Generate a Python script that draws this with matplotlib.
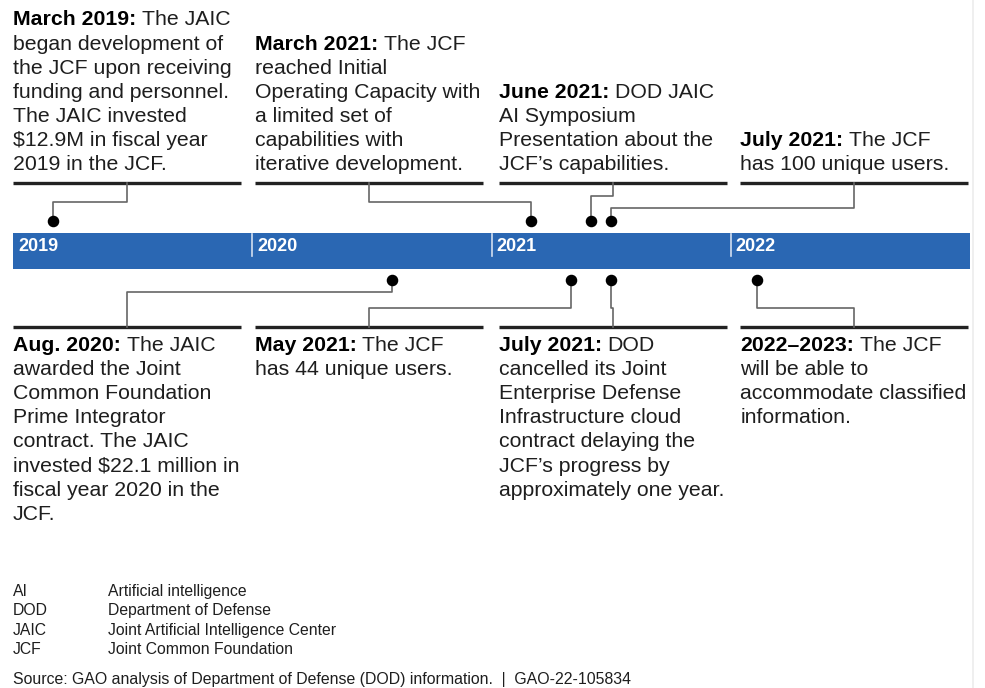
import matplotlib
matplotlib.use('Agg')
import matplotlib.pyplot as plt

plt.rcParams['font.family'] = ['Liberation Sans', 'DejaVu Sans']

# timeline years shown in the bar
years = [2019, 2020, 2021, 2022]
bar_start = 2019
bar_end = 2023

# events above the bar
top_dates = [2019 + 2/12, 2021 + 2/12, 2021 + 5/12, 2021 + 6/12]
top_heads = ['March 2019:', 'March 2021:', 'June 2021:', 'July 2021:']
top_texts = [
    ['The JAIC', 'began development of', 'the JCF upon receiving',
     'funding and personnel.', 'The JAIC invested', '$12.9M in fiscal year',
     '2019 in the JCF.'],
    ['The JCF', 'reached Initial', 'Operating Capacity with',
     'a limited set of', 'capabilities with', 'iterative development.'],
    ['DOD JAIC', 'AI Symposium', 'Presentation about the',
     'JCF\u2019s capabilities.'],
    ['The JCF', 'has 100 unique users.'],
]

# events below the bar
bot_dates = [2020 + 7/12, 2021 + 4/12, 2021 + 6/12, 2022.11]
bot_heads = ['Aug. 2020:', 'May 2021:', 'July 2021:', '2022\u20132023:']
bot_texts = [
    ['The JAIC', 'awarded the Joint', 'Common Foundation', 'Prime Integrator',
     'contract. The JAIC', 'invested $22.1 million in',
     'fiscal year 2020 in the', 'JCF.'],
    ['The JCF', 'has 44 unique users.'],
    ['DOD', 'cancelled its Joint', 'Enterprise Defense',
     'Infrastructure cloud', 'contract delaying the', 'JCF\u2019s progress by',
     'approximately one year.'],
    ['The JCF', 'will be able to', 'accommodate classified', 'information.'],
]

abbr = ['AI', 'DOD', 'JAIC', 'JCF']
abbr_def = ['Artificial intelligence', 'Department of Defense',
            'Joint Artificial Intelligence Center', 'Joint Common Foundation']
source = 'Source: GAO analysis of Department of Defense (DOD) information.  |  GAO-22-105834'

W, H = 985, 688
fig = plt.figure(figsize=(W / 100, H / 100), dpi=100)
ax = fig.add_axes([0, 0, 1, 1])
ppy = 957 / 4  # pixels per year
ax.set_xlim(bar_start - 13 / ppy, bar_start + (W - 13) / ppy)
ax.set_ylim(H, 0)
ax.axis('off')
dx = 1 / ppy

fs = 15.3
lh = 24.1
txt_col = '#1e1e1e'
line_col = '#666666'
blue = '#2a67b3'

col_left = [2019.0, 2020.01, 2021.03, 2022.04]
col_w = 0.953

renderer = fig.canvas.get_renderer()

def draw_block(x, y0, head, lines):
    t = ax.text(x, y0, head, fontsize=fs, fontweight='bold', color='black',
                va='baseline', ha='left', parse_math=False)
    bb = t.get_window_extent(renderer=renderer)
    xe = ax.transData.inverted().transform((bb.x1, bb.y0))[0]
    ax.text(xe + 0.278 * fs * 100 / 72 * dx, y0, lines[0], fontsize=fs,
            color=txt_col, va='baseline', ha='left', parse_math=False)
    for i, s in enumerate(lines[1:]):
        ax.text(x, y0 + (i + 1) * lh, s, fontsize=fs, color=txt_col,
                va='baseline', ha='left', parse_math=False)

# faint frame line on the right
ax.plot([2023.012, 2023.012], [0, H], color='#ececec', lw=1.2)

# bar
ax.fill_between([bar_start, bar_end], 233, 269, color=blue, lw=0)
for i, yr in enumerate(years):
    if i > 0:
        ax.plot([yr, yr], [234, 256], color='#d3def0', lw=1.2)
    ax.text(yr + 5 * dx, 246.5, str(yr), color='white', fontsize=13,
            fontweight='bold', va='center', ha='left')

# top row
top_under = 183
top_elbow = [202, 202, 196, 208]
for i in range(4):
    ax.plot([col_left[i], col_left[i] + col_w], [top_under, top_under],
            color='#222222', lw=2.4, solid_capstyle='butt')
    n = len(top_texts[i])
    draw_block(col_left[i], 170 - (n - 1) * lh, top_heads[i], top_texts[i])
    mid = col_left[i] + col_w / 2
    d = top_dates[i]
    ax.plot([d, d, mid, mid], [221, top_elbow[i], top_elbow[i], top_under],
            color=line_col, lw=1.2)
    ax.plot([d], [221], marker='o', markersize=7.3, color='black', lw=0)

# bottom row
bot_under = 327
bot_elbow = [292, 308, 308, 308]
for i in range(4):
    ax.plot([col_left[i], col_left[i] + col_w], [bot_under, bot_under],
            color='#222222', lw=2.4, solid_capstyle='butt')
    draw_block(col_left[i], 351, bot_heads[i], bot_texts[i])
    mid = col_left[i] + col_w / 2
    d = bot_dates[i]
    ax.plot([d, d, mid, mid], [280, bot_elbow[i], bot_elbow[i], bot_under],
            color=line_col, lw=1.2)
    ax.plot([d], [280], marker='o', markersize=7.3, color='black', lw=0)

# abbreviations
for i, (a, dfn) in enumerate(zip(abbr, abbr_def)):
    y = 596 + i * 19.3
    ax.text(2019.0, y, a, fontsize=11.3, color=txt_col, va='baseline')
    ax.text(2019 + 95 * dx, y, dfn, fontsize=11.3, color=txt_col, va='baseline')

ax.text(2019.0, 684, source, fontsize=11.4, color=txt_col, va='baseline')

fig.savefig('out.png', dpi=100)
